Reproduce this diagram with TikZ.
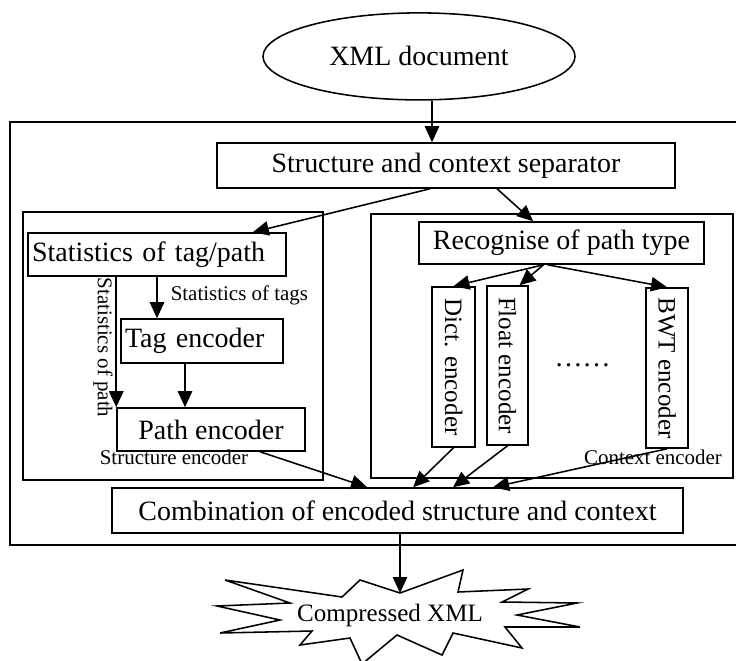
\documentclass[tikz,border=0pt]{standalone}
\usepackage{fontspec}
\setmainfont{Liberation Serif}
\usepackage{graphicx}
\usetikzlibrary{shapes.geometric,arrows.meta}

\newcommand{\bigtext}{\fontsize{19.9}{22}\selectfont}
\newcommand{\midtext}{\fontsize{17.8}{20}\selectfont}
\newcommand{\smalltext}{\fontsize{14.9}{17}\selectfont}

\begin{document}
\begin{tikzpicture}[
    >={Triangle[length=4mm,width=3.6mm]},
    line width=1.1pt,
    box/.style={draw,rectangle,inner sep=0pt,font=\bigtext},
    coder/.style={draw,rectangle,inner sep=0pt,font=\midtext,minimum width=1.05cm,minimum height=4cm},
    note/.style={font=\smalltext,inner sep=0pt}
  ]
    \useasboundingbox (0,0) rectangle (18.4,16.5);

    % input document and the frames around the encoder
    \node[draw,ellipse,inner sep=0pt,minimum width=7.8cm,minimum height=2.175cm,font=\bigtext] (xmldoc) at (10.475,15.09) {XML document};
    \draw (18.4,13.45) -- (0.25,13.45) -- (0.25,2.875) -- (18.4,2.875);
    \draw (0.575,4.5) rectangle (8.075,11.2);
    \draw (9.275,4.55) rectangle (18.325,11.15);

    \node[box,minimum width=11.45cm,minimum height=1.125cm] (separator) at (11.15,12.3625) {Structure and context separator};

    % structure part
    \node[box,text width=6.25cm,inner xsep=0.1cm,minimum height=1.075cm,align=left] (tagpath) at (3.925,10.1375) {Statistics of tag/path};
    \node[box,text width=3.85cm,inner xsep=0.1cm,minimum height=1.1cm,align=left] (tagenc) at (5.05,7.975) {Tag encoder};
    \node[box,minimum width=4.7cm,minimum height=1.075cm] (pathenc) at (5.275,5.7625) {Path encoder};
    \node[note,anchor=west] (tagstat) at (4.25,9.125) {Statistics of tags};
    \node[note,rotate=-90] (pathstat) at (2.575,7.8125) {Statistics of path};
    \node[note] (structlbl) at (4.35,5.075) {Structure encoder};

    % context part
    \node[box,minimum width=7.125cm,minimum height=1.05cm] (recog) at (14.0375,10.425) {Recognise of path type};
    \node[coder,minimum width=1.075cm] (dictenc) at (11.3375,7.325) {\rotatebox{-90}{Dict. encoder}};
    \node[coder,minimum width=1.025cm,minimum height=3.975cm] (floatenc) at (12.6875,7.3625) {\rotatebox{-90}{Float encoder}};
    \node[coder] (bwtenc) at (16.675,7.3) {\rotatebox{-90}{BWT encoder}};
    \node[font=\bigtext,inner sep=0pt] (dots) at (14.5625,7.375) {……};
    \node[note] (contlbl) at (16.325,5.075) {Context encoder};

    \node[box,minimum width=14.275cm,minimum height=1.125cm] (combine) at (9.9375,3.7375) {Combination of encoded structure and context};

    % output burst
    \draw (9.05,-0.1) -- (8.75,0.55) -- (7.5,0.375) -- (7.8,0.725) -- (5.5,0.675) -- (7.0,1.0)
      -- (5.425,1.35) -- (7.25,1.425) -- (5.625,2.0) -- (8.55,1.575) -- (9.0,2.0) -- (10.0,1.675)
      -- (11.575,2.25) -- (11.45,1.7) -- (13.2,1.775) -- (12.55,1.45) -- (14.425,1.425)
      -- (12.925,1.125) -- (14.5,0.825) -- (12.625,0.825) -- (13.05,0.3) -- (11.325,0.675)
      -- (11.05,0.125) -- (9.925,0.625) -- cycle;
    \node[font=\midtext,inner sep=0pt] (compressed) at (9.75,1.125) {Compressed XML};
    \coordinate (notch) at (10.0,1.675);

    % connectors
    \draw[->] ([xshift=3.25mm]xmldoc.south) -- ([xshift=3.25mm]xmldoc.south |- separator.north);
    \draw[->] ([xshift=-4mm]separator.south) -- ([xshift=-8.5mm]tagpath.north east);
    \draw[->] ([xshift=12.75mm]separator.south) -- ([xshift=-7.1mm]recog.north);
    \draw[->] (tagpath.south) -- (tagpath.south |- tagenc.north);
    \draw[->] (tagpath.south -| pathenc.north west) -- (pathenc.north west);
    \draw[->] ([xshift=-4.25mm]tagenc.south) -- ([xshift=-4.25mm]tagenc.south |- pathenc.north);
    \coordinate (fork) at ([xshift=-4.5mm]recog.south);
    \draw[->] (fork) -- (dictenc.north);
    \draw[->] (fork) -- ([xshift=3mm]floatenc.north);
    \draw[->] ([xshift=1mm]fork) -- (bwtenc.north);
    \draw[->] ([xshift=12.25mm]pathenc.south) -- ([xshift=-7.6mm]combine.north);
    \draw[->] (dictenc.south) -- ([xshift=3.9mm]combine.north);
    \draw[->] (floatenc.south) -- ([xshift=13.9mm]combine.north);
    \draw[->] (bwtenc.south) -- ([xshift=23.9mm]combine.north);
    \draw[->] (combine.south -| notch) -- (notch);
\end{tikzpicture}
\end{document}
